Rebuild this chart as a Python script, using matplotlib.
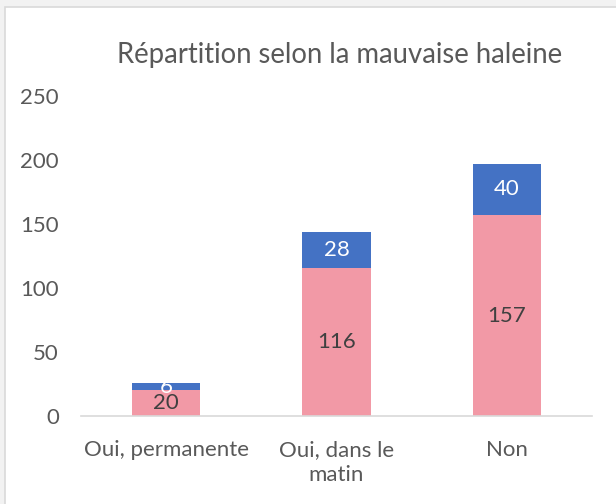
import matplotlib
matplotlib.use("Agg")
import matplotlib.pyplot as plt
import matplotlib.patches as mpatches

# ── Data ─────────────────────────────────────────────────────────────────────
CATEGORIES = ["Oui, permanente", "Oui, dans le\nmatin", "Non"]
BOTTOM_VALUES = [20, 116, 157]   # pink series
TOP_VALUES = [6, 28, 40]         # blue series
Y_TICKS = [0, 50, 100, 150, 200, 250]
TITLE = "Répartition selon la mauvaise haleine"

PINK = "#F299A6"
BLUE = "#4472C4"
TEXT = "#595959"
LABEL_DARK = "#404040"
FS = 16

plt.rcParams["font.family"] = ["Lato", "DejaVu Sans"]

fig = plt.figure(figsize=(6.16, 5.04), dpi=100)
fig.patch.set_facecolor("#F2F2F2")

# white chart area with a light border (Excel chart frame)
frame = mpatches.Rectangle((4.5 / 616, -0.01), 1.02, 1.01 - 6.5 / 504,
                           transform=fig.transFigure, facecolor="white",
                           edgecolor="#D9D9D9", linewidth=1.2, zorder=-5)
fig.patches.append(frame)

ax = fig.add_axes([81 / 616, (504 - 416) / 504, (592 - 81) / 616, (416 - 96) / 504])
ax.set_facecolor("none")

x = range(len(CATEGORIES))
ax.bar(x, BOTTOM_VALUES, width=0.4, color=PINK, zorder=2)
ax.bar(x, TOP_VALUES, width=0.4, bottom=BOTTOM_VALUES, color=BLUE, zorder=2)

for i, (b, t) in enumerate(zip(BOTTOM_VALUES, TOP_VALUES)):
    ax.text(i, b / 2, str(b), ha="center", va="center", fontsize=FS,
            color=LABEL_DARK, zorder=3)
    ax.text(i, b + t / 2, str(t), ha="center", va="center", fontsize=FS,
            color="white", zorder=3)

ax.set_xlim(-0.5, len(CATEGORIES) - 0.5)
ax.set_ylim(0, 250)
ax.set_yticks(Y_TICKS)
ax.set_xticks(list(x))
ax.set_xticklabels(CATEGORIES, fontsize=FS, color=TEXT, linespacing=1.35)
ax.tick_params(axis="y", labelsize=FS, labelcolor=TEXT, length=0, pad=16)
ax.tick_params(axis="x", length=0, pad=17)

for side in ["top", "right", "left"]:
    ax.spines[side].set_visible(False)
ax.spines["bottom"].set_color("#D9D9D9")
ax.spines["bottom"].set_linewidth(1.2)

fig.text(340 / 616, 1 - 55 / 504, TITLE, ha="center", va="center",
         fontsize=19.8, color=TEXT)

fig.savefig("out.png", dpi=100, facecolor=fig.get_facecolor())
